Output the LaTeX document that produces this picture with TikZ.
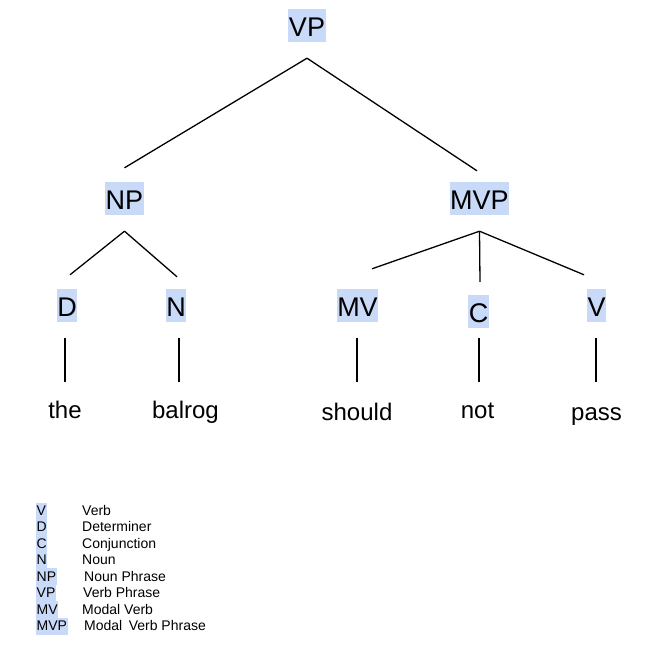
\documentclass[tikz,border=0pt]{standalone}
\usepackage{fontspec}
\setmainfont{Liberation Sans}
\usetikzlibrary{positioning}
\definecolor{hilite}{HTML}{C9DAF8}
\newcommand{\mvpgap}{\hspace*{6.5pt}}

\tikzset{
  cat/.style={fill=hilite, anchor=base, font=\fontsize{27}{30}\selectfont,
    inner xsep=0.5pt, inner ysep=2pt, text height=25pt, text depth=4pt},
  word/.style={anchor=base, font=\fontsize{24}{28}\selectfont,
    inner sep=0pt, text height=18pt, text depth=5pt},
  branch/.style={draw=black, line width=1.3pt},
  keyword/.style={fill=hilite, anchor=base west, font=\fontsize{14}{16}\selectfont,
    inner xsep=0.5pt, inner ysep=0pt, text height=13pt, text depth=4pt},
  keytext/.style={anchor=base west, font=\fontsize{14}{16}\selectfont, inner sep=0pt}
}

\begin{document}
\begin{tikzpicture}[x=1pt, y=-1pt]
    \fill[white] (0,0) rectangle (659,648);
    \useasboundingbox (0,0) rectangle (659,648);

    % phrase and category labels
    \node[cat] (VP) at (307,36) {VP};
    \node[cat] (NP) at (124.5,209) {NP};
    \node[cat] (MVP) at (479.5,209) {MVP};
    \node[cat] (D) at (67,316) {D};
    \node[cat] (N) at (176,316) {N};
    \node[cat] (MV) at (357.5,316) {MV};
    \node[cat] (C) at (478.5,322) {C};
    \node[cat] (V) at (596.5,316) {V};

    % words
    \node[word] (the) at (65,418) {the};
    \node[word] (balrog) at (185.5,418) {balrog};
    \node[word] (should) at (357,420) {should};
    \node[word] (not) at (477.5,418) {not};
    \node[word] (pass) at (596.5,420) {pass};

    % branches
    \draw[branch] ([yshift=-16pt]VP.south) -- ([yshift=14pt]NP.north);
    \draw[branch] ([yshift=-16pt]VP.south) -- ([xshift=-2.5pt,yshift=11pt]MVP.north);
    \draw[branch] ([yshift=-16pt]NP.south) -- ([xshift=3pt,yshift=14pt]D.north);
    \draw[branch] ([yshift=-16pt]NP.south) -- ([xshift=1pt,yshift=12pt]N.north);
    \draw[branch] ([yshift=-16pt]MVP.south) -- ([xshift=14.5pt,yshift=20pt]MV.north);
    \draw[branch] ([yshift=-16pt]MVP.south) -- ([xshift=1.5pt,yshift=13pt]C.north);
    \draw[branch] ([yshift=-16pt]MVP.south) -- ([xshift=-12.5pt,yshift=14pt]V.north);

    \draw[branch] ([xshift=-2pt,yshift=-16pt]D.south) -- ([yshift=18pt]the.north);
    \draw[branch] ([xshift=3pt,yshift=-16pt]N.south) -- ([xshift=-6.5pt,yshift=18pt]balrog.north);
    \draw[branch] ([xshift=-0.5pt,yshift=-16pt]MV.south) -- ([yshift=20pt]should.north);
    \draw[branch] ([xshift=0.5pt,yshift=-10pt]C.south) -- ([xshift=1.5pt,yshift=18pt]not.north);
    \draw[branch] ([xshift=-0.5pt,yshift=-16pt]V.south) -- ([xshift=-0.5pt,yshift=20pt]pass.north);

    % legend
    \foreach \abbr/\desc/\dx [count=\i from 0] in
      {V/Verb/82, D/Determiner/82, C/Conjunction/82, N/Noun/82,
       NP/Noun Phrase/84, VP/Verb Phrase/83, MV/Modal Verb/82,
       MVP/Modal\mvpgap Verb Phrase/84} {
      \node[keyword] (key\i) at (36,515.5+16.43*\i) {\abbr};
      \node[keytext] (desc\i) at (\dx,515.5+16.43*\i) {\desc};
    }
\end{tikzpicture}
\end{document}
